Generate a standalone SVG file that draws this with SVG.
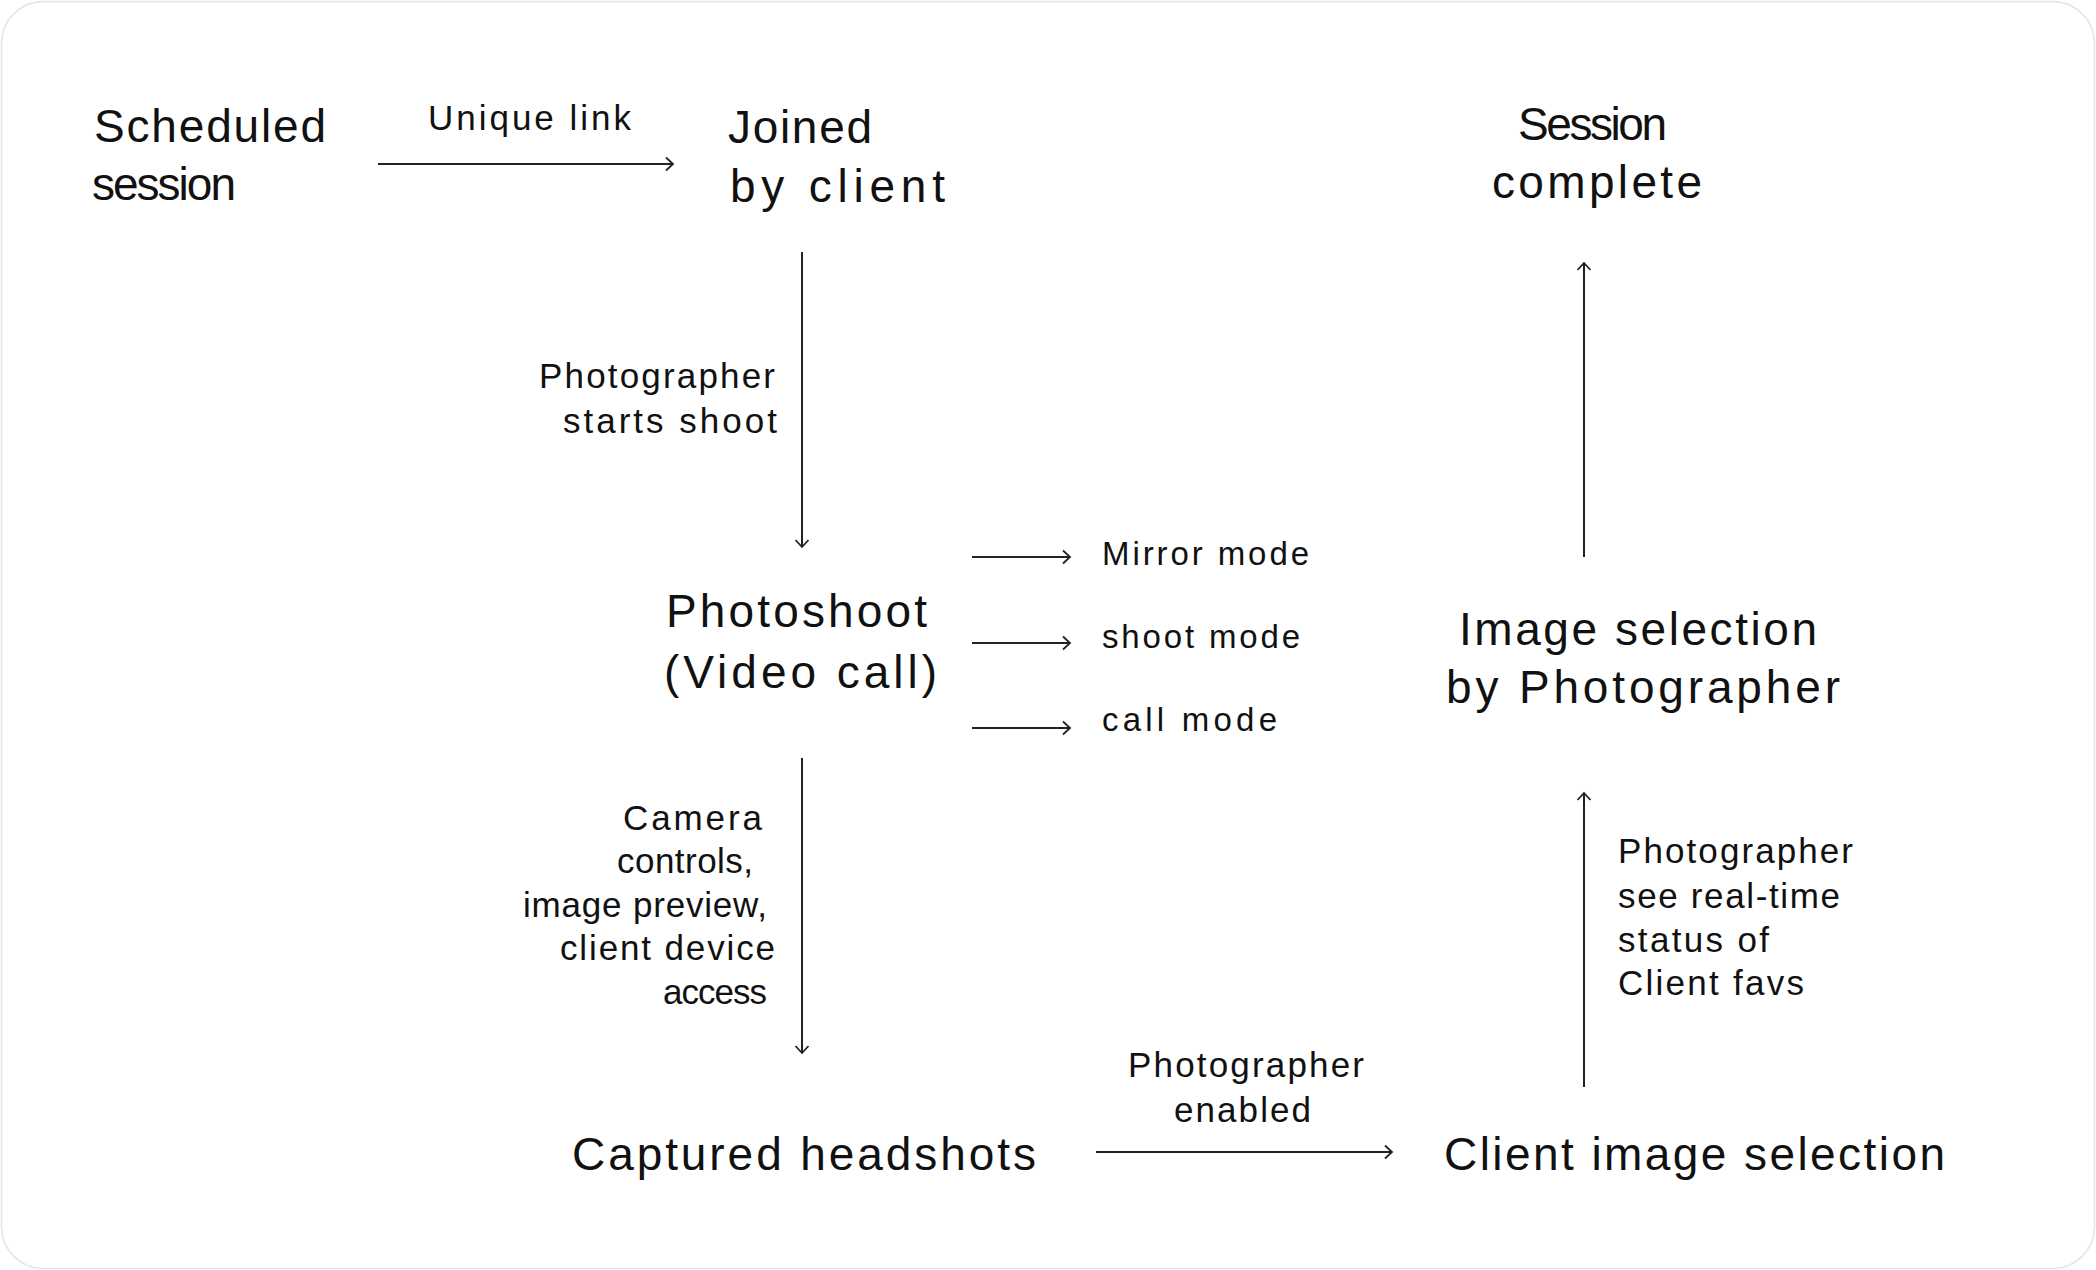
<svg xmlns="http://www.w3.org/2000/svg" width="2096" height="1270" viewBox="0 0 2096 1270">
  <style>
    .bg { fill: #ffffff; stroke: #e3e3e3; stroke-width: 1.5; }
    text { font-family: "Liberation Sans", "DejaVu Sans", sans-serif; fill: #111111; }
    .big { font-size: 46px; }
    .small { font-size: 35px; }
    .mode { font-size: 33px; }
    .edge { fill: none; stroke: #222222; stroke-width: 2; marker-end: url(#arrow); }
  </style>
  <defs>
    <marker id="arrow" markerUnits="userSpaceOnUse" markerWidth="20" markerHeight="20" viewBox="-10 -10 20 20" refX="0" refY="0" orient="auto">
      <path d="M-7,-6.5 L0,0 L-7,6.5" fill="none" stroke="#222222" stroke-width="1.8"/>
    </marker>
  </defs>

  <rect class="bg" x="1.5" y="1.5" width="2093" height="1267" rx="42" ry="42"/>

  <g id="connectors">
    <line class="edge" x1="378" y1="164" x2="673" y2="164"/>
    <line class="edge" x1="802" y1="252" x2="802" y2="547"/>
    <line class="edge" x1="972" y1="557" x2="1070" y2="557"/>
    <line class="edge" x1="972" y1="643" x2="1070" y2="643"/>
    <line class="edge" x1="972" y1="728" x2="1070" y2="728"/>
    <line class="edge" x1="802" y1="758" x2="802" y2="1053"/>
    <line class="edge" x1="1096" y1="1152" x2="1392" y2="1152"/>
    <line class="edge" x1="1584" y1="1087" x2="1584" y2="793"/>
    <line class="edge" x1="1584" y1="557" x2="1584" y2="263"/>
  </g>

  <g id="edge-labels">
    <text class="small" x="428" y="130" textLength="203">Unique link</text>
    <text class="small" x="539" y="388" textLength="236">Photographer</text>
    <text class="small" x="563" y="433" textLength="214">starts shoot</text>
    <text class="small" x="623" y="830" textLength="139">Camera</text>
    <text class="small" x="617" y="873" textLength="136">controls,</text>
    <text class="small" x="523" y="917" textLength="244">image preview,</text>
    <text class="small" x="560" y="960" textLength="215">client device</text>
    <text class="small" x="663" y="1004" textLength="104">access</text>
    <text class="small" x="1128" y="1077" textLength="236">Photographer</text>
    <text class="small" x="1174" y="1122" textLength="137">enabled</text>
    <text class="small" x="1618" y="863" textLength="235">Photographer</text>
    <text class="small" x="1618" y="908" textLength="222">see real-time</text>
    <text class="small" x="1618" y="952" textLength="151">status of</text>
    <text class="small" x="1618" y="995" textLength="186">Client favs</text>
  </g>

  <g id="node-scheduled">
    <text class="big" x="94" y="142" textLength="232">Scheduled</text>
    <text class="big" x="92" y="200" textLength="144">session</text>
  </g>
  <g id="node-joined">
    <text class="big" x="728" y="143" textLength="144">Joined</text>
    <text class="big" x="730" y="202" textLength="215">by client</text>
  </g>
  <g id="node-complete">
    <text class="big" x="1518" y="140" textLength="149">Session</text>
    <text class="big" x="1492" y="198" textLength="210">complete</text>
  </g>
  <g id="node-photoshoot">
    <text class="big" x="666" y="627" textLength="261">Photoshoot</text>
    <text class="big" x="664" y="688" textLength="273">(Video call)</text>
  </g>
  <g id="node-mirror">
    <text class="mode" x="1102" y="565" textLength="207">Mirror mode</text>
  </g>
  <g id="node-shoot">
    <text class="mode" x="1102" y="648" textLength="198">shoot mode</text>
  </g>
  <g id="node-call">
    <text class="mode" x="1102" y="731" textLength="175">call mode</text>
  </g>
  <g id="node-photographer-selection">
    <text class="big" x="1459" y="645" textLength="358">Image selection</text>
    <text class="big" x="1446" y="703" textLength="394">by Photographer</text>
  </g>
  <g id="node-captured">
    <text class="big" x="572" y="1170" textLength="464">Captured headshots</text>
  </g>
  <g id="node-client-selection">
    <text class="big" x="1444" y="1170" textLength="501">Client image selection</text>
  </g>
</svg>
